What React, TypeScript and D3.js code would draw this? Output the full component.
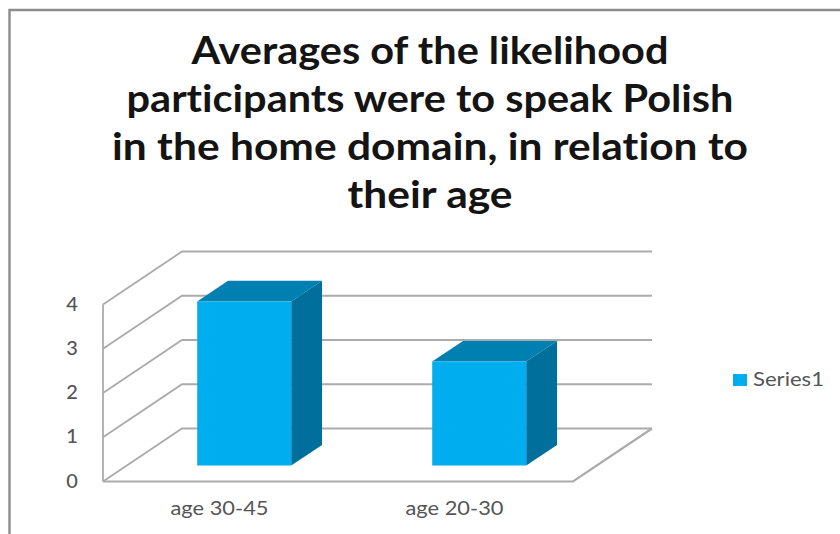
import React from "react";
import * as d3 from "d3";

const titleLines = [
  "Averages of the likelihood",
  "participants were to speak Polish",
  "in the home domain, in relation to",
  "their age",
];
const categories = ["age 30-45", "age 20-30"];
const seriesName = "Series1";
const seriesValues = [3.71, 2.35];
const valueTicks = [0, 1, 2, 3, 4];

const FONT = "Lato, 'Open Sans', sans-serif";
const FRONT = "#00AEEF";
const TOP = "#0080B0";
const SIDE = "#006F9C";
const GRID = "#ABABAB";
const TEXT = "#555555";

// Oblique projection: the floor runs back by this offset from the front edge.
const floorDepth = { dx: 79, dy: -53 };
const barDepth = { start: 0.3, end: 0.69 };

const x = d3.scaleBand<string>().domain(categories).range([103, 573]).paddingInner(0.6).paddingOuter(0.3);
const y = d3.scaleLinear().domain([0, 4]).range([481.5, 304.5]);
const path = d3.line<[number, number]>();

const at = (px: number, py: number, depth: number): [number, number] => [
  px + floorDepth.dx * depth,
  py + floorDepth.dy * depth,
];

export default function App() {
  const [x0, x1] = x.range();
  return (
    <svg
      width={840}
      height={534}
      viewBox="0 0 840 534"
      style={{ position: "absolute", left: 0, top: 0, background: "#fff", fontFamily: FONT, fontVariantLigatures: "none" }}
    >
      {/* chart frame */}
      <path d="M9.5 534V10H840" fill="none" stroke="#8C8C8C" strokeWidth={2.4} />

      {titleLines.map((line, i) => (
        <text
          key={line}
          x={430}
          y={[64, 112, 160, 208][i]}
          textAnchor="middle"
          fontSize={38}
          fontWeight={700}
          fill="#141414"
          textLength={[477, 607, 636, 165][i]}
          lengthAdjust="spacingAndGlyphs"
        >
          {line}
        </text>
      ))}

      {/* walls and floor */}
      <g fill="none" stroke={GRID} strokeWidth={1.8}>
        {valueTicks.map((t) => (
          <path
            key={t}
            d={path([[x0, y(t)], at(x0, y(t), 1), at(x1, y(t), 1)]) ?? ""}
          />
        ))}
        <path d={path([[x0, y(0)], [x0, y(4)]]) ?? ""} />
        <path d={path([[x0, y(0)], [x1, y(0)], at(x1, y(0), 1)]) ?? ""} strokeWidth={2.2} />
      </g>

      {/* axis labels */}
      {valueTicks.map((t) => (
        <text key={t} x={72} y={y(t) + 6} textAnchor="middle" fontSize={20} fontWeight={500} fill={TEXT}>
          {t}
        </text>
      ))}
      {categories.map((c) => (
        <text
          key={c}
          x={(x(c) ?? 0) + x.bandwidth() / 2 - 1}
          y={515}
          textAnchor="middle"
          fontSize={19.5}
          fill={TEXT}
          textLength={98}
          lengthAdjust="spacingAndGlyphs"
        >
          {c}
        </text>
      ))}

      {/* 3D columns */}
      {categories.map((c, i) => {
        const l = x(c) ?? 0;
        const r = l + x.bandwidth();
        const bottom = y(0);
        const top = y(seriesValues[i]);
        const fl = (px: number, py: number) => at(px, py, barDepth.start);
        const bk = (px: number, py: number) => at(px, py, barDepth.end);
        return (
          <g key={c}>
            <path d={path([fl(l, top), fl(r, top), bk(r, top), bk(l, top)]) + "Z"} fill={TOP} />
            <path d={path([fl(r, top), bk(r, top), bk(r, bottom), fl(r, bottom)]) + "Z"} fill={SIDE} />
            <path d={path([fl(l, top), fl(r, top), fl(r, bottom), fl(l, bottom)]) + "Z"} fill={FRONT} />
          </g>
        );
      })}

      {/* legend */}
      <rect x={733} y={374} width={14} height={12} fill={FRONT} />
      <text x={753} y={386} fontSize={20} fill={TEXT} textLength={71} lengthAdjust="spacingAndGlyphs">
        {seriesName}
      </text>
    </svg>
  );
}
